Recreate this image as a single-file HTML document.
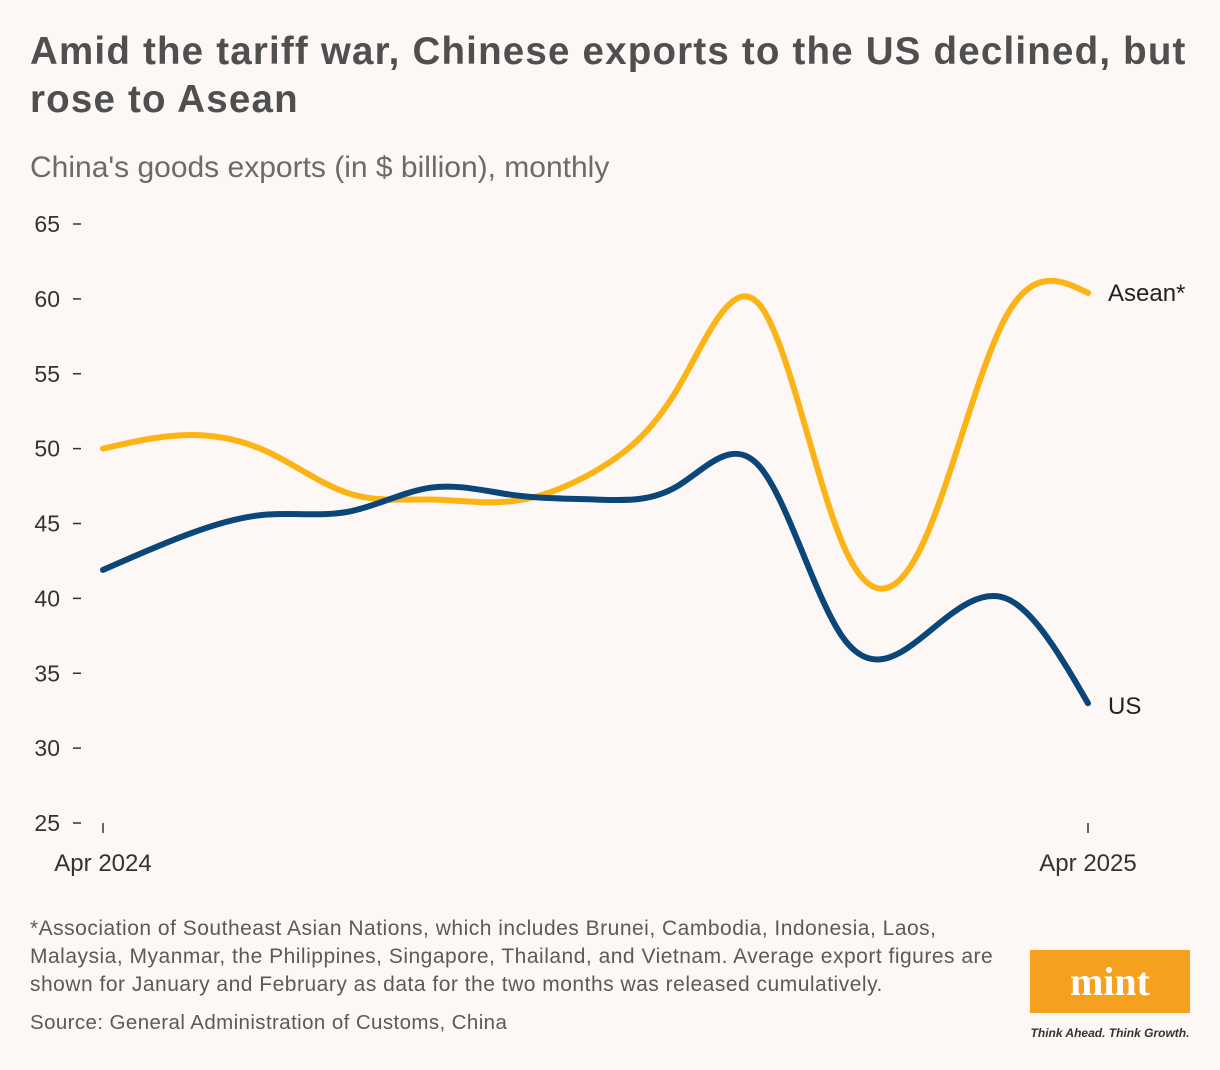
<!DOCTYPE html>
<html><head><meta charset="utf-8"><style>
body{margin:0;background:#fdf8f6;font-family:"Liberation Sans",sans-serif;}
#wrap{position:relative;width:1220px;height:1070px;overflow:hidden;background:#fdf8f6;}
.t{position:absolute;left:30px;top:28px;white-space:nowrap;font-size:38.5px;font-weight:bold;color:#4f4f4f;line-height:48px;letter-spacing:1.2px;}
.s{position:absolute;left:30px;top:151px;font-size:30px;color:#6b6b6b;}
.f{position:absolute;left:30px;top:915px;white-space:nowrap;font-size:21px;line-height:28px;color:#5a5a5a;letter-spacing:0.5px;}
.src{position:absolute;left:30px;top:1011px;font-size:20.5px;color:#5a5a5a;letter-spacing:0.4px;}
.logo{position:absolute;left:1030px;top:950px;width:160px;height:63px;background:#f5a01f;color:#fff;font:bold 40px "Liberation Serif",serif;text-align:center;line-height:63px;}
.tag{position:absolute;left:1030px;top:1026px;width:160px;font-size:12px;font-style:italic;font-weight:bold;color:#333;text-align:center;}
</style></head><body>
<div id="wrap">
<div class="t">Amid the tariff war, Chinese exports to the US declined, but<br>rose to Asean</div>
<div class="s">China's goods exports (in $ billion), monthly</div>
<svg id="svg" width="1220" height="1070" style="position:absolute;left:0;top:0"></svg>
<div class="f">*Association of Southeast Asian Nations, which includes Brunei, Cambodia, Indonesia, Laos,<br>Malaysia, Myanmar, the Philippines, Singapore, Thailand, and Vietnam. Average export figures are<br>shown for January and February as data for the two months was released cumulatively.</div>
<div class="src">Source: General Administration of Customs, China</div>
<div class="logo">mint</div>
<div class="tag">Think Ahead. Think Growth.</div>
</div>
<script>
const months=["Apr 2024","May","Jun","Jul","Aug","Sep","Oct","Nov","Dec","Jan","Feb","Mar","Apr 2025"];
const asean=[50,50.9,49.8,47,46.6,46.5,48.5,54,59.6,43.8,43.8,58.8,60.4];
const us=[41.9,44.2,45.6,45.8,47.4,46.9,46.6,47.5,48.8,37.5,37.5,40,33];
const yTicks=[25,30,35,40,45,50,55,60,65];
const NS="http://www.w3.org/2000/svg";
const svg=document.getElementById('svg');
const x=i=>103+i*(1088-103)/(months.length-1);
const y=v=>823-(v-25)*(823-224)/40;
function mk(t,a){const e=document.createElementNS(NS,t);for(const k in a)e.setAttribute(k,a[k]);svg.appendChild(e);return e;}
yTicks.forEach(v=>{
 const l=mk('line',{x1:73,x2:81,y1:y(v),y2:y(v),stroke:'#333','stroke-width':1.5});
 
 
 const t=mk('text',{x:60,y:y(v)+8,'text-anchor':'end','font-size':23,fill:'#333','font-family':'Liberation Sans'});
 t.textContent=v;
 
 
});
[0,months.length-1].forEach(i=>{
 const l=mk('line',{x1:x(i),x2:x(i),y1:823,y2:833,stroke:'#333','stroke-width':1.5});
 
 
 const t=mk('text',{x:x(i),y:871,'text-anchor':'middle','font-size':24,fill:'#333','font-family':'Liberation Sans'});
 t.textContent=months[i];
 
 
});
function natural(vals){
 const n=vals.length,P=vals.map((v,i)=>[x(i),y(v)]);
 function ctrl(k){const a=P.map(p=>p[k]);const m=n-1;const A=new Array(m),B=new Array(m),r=new Array(m);
  A[0]=0;B[0]=2;r[0]=a[0]+2*a[1];
  for(let i=1;i<m-1;i++){A[i]=1;B[i]=4;r[i]=4*a[i]+2*a[i+1];}
  A[m-1]=2;B[m-1]=7;r[m-1]=8*a[m-1]+a[m];
  for(let i=1;i<m;i++){const w=A[i]/B[i-1];B[i]-=w;r[i]-=w*r[i-1];}
  const c1=new Array(m);c1[m-1]=r[m-1]/B[m-1];
  for(let i=m-2;i>=0;i--)c1[i]=(r[i]-c1[i+1])/B[i];
  const c2=new Array(m);for(let i=0;i<m-1;i++)c2[i]=2*a[i+1]-c1[i+1];c2[m-1]=(a[m]+c1[m-1])/2;
  return [c1,c2];}
 const [x1,x2]=ctrl(0),[y1,y2]=ctrl(1);
 let d='M'+P[0][0]+','+P[0][1];
 for(let i=0;i<n-1;i++)d+=`C${x1[i]},${y1[i]} ${x2[i]},${y2[i]} ${P[i+1][0]},${P[i+1][1]}`;
 return d;}
const pa=mk('path',{d:natural(asean),fill:'none',stroke:'#fbb316','stroke-width':6,'stroke-linecap':'round'});


const pu=mk('path',{d:natural(us),fill:'none',stroke:'#0b4679','stroke-width':6,'stroke-linecap':'round'});


const la=mk('text',{x:1108,y:y(asean[12])+8,'font-size':24,fill:'#222','font-family':'Liberation Sans'});
la.textContent='Asean*';


const lu=mk('text',{x:1108,y:y(us[12])+11,'font-size':24,fill:'#222','font-family':'Liberation Sans'});
lu.textContent='US';


</script>
</body></html>
